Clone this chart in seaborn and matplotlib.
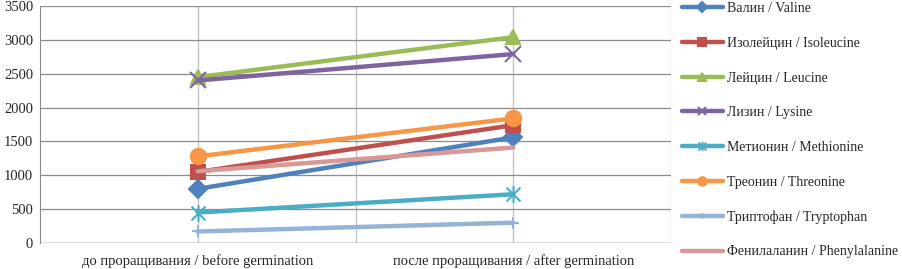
import pandas as pd
import matplotlib.pyplot as plt
import seaborn as sns
from matplotlib.path import Path

# Данные
stages = ["до проращивания / before germination", "после проращивания / after germination"]
amino_acids = [
    "Валин / Valine",
    "Изолейцин / Isoleucine",
    "Лейцин / Leucine",
    "Лизин / Lysine",
    "Метионин / Methionine",
    "Треонин / Threonine",
    "Триптофан / Tryptophan",
    "Фенилаланин / Phenylalanine",
]
before = [800, 1050, 2450, 2400, 450, 1280, 170, 1060]
after = [1560, 1740, 3040, 2790, 720, 1840, 300, 1410]

colors = ["#4F81BD", "#C0504D", "#9BBB59", "#8064A2", "#4BACC6", "#F79646", "#95B3D7", "#D99795"]

# звёздочка как в Excel: крест + вертикальная линия
star = Path([(-1, -1), (1, 1), (-1, 1), (1, -1), (0, -1.2), (0, 1.2)],
            [Path.MOVETO, Path.LINETO, Path.MOVETO, Path.LINETO, Path.MOVETO, Path.LINETO])
markers = ["D", "s", "^", "x", star, "o", "+", None]
msizes = [9, 10, 10, 11, 12, 11, 9, 0]

sns.set_style("white")
plt.rcParams["font.family"] = ["Liberation Serif", "DejaVu Serif"]

fig = plt.figure(figsize=(9.02, 2.69), dpi=100)
ax = fig.add_axes([40 / 902, 1 - 243 / 269, 631 / 902, 237 / 269])

for x in [0, 0.5, 1, 1.5]:
    ax.axvline(x, color="#bfbfbf", linewidth=0.9, zorder=0)

for i, name in enumerate(amino_acids):
    df = pd.DataFrame({"x": [0, 1], "y": [before[i], after[i]]})
    m = markers[i]
    kw = {}
    if m is not None:
        kw = dict(marker=m, markersize=msizes[i], markeredgewidth=1.5,
                  markeredgecolor=colors[i], markerfacecolor=colors[i])
    sns.lineplot(data=df, x="x", y="y", ax=ax, color=colors[i], linewidth=3.2,
                 label=name, **kw)

ax.set_xlim(-0.5, 1.5)
ax.set_ylim(0, 3500)
ax.set_yticks(range(0, 3501, 500))
ax.set_xticks([0, 1])
ax.set_xticklabels(stages)
ax.grid(False)
ax.grid(axis="y", color="#8c8c8c", linewidth=0.9)
ax.set_axisbelow(True)
ax.set_xlabel("")
ax.set_ylabel("")
ax.tick_params(axis="both", labelsize=10.5)
ax.tick_params(axis="x", length=0, pad=8)
ax.tick_params(axis="y", length=3, color="#8c8c8c", pad=2)
for s in ["top", "right", "bottom"]:
    ax.spines[s].set_visible(False)
ax.spines["left"].set_color("#8c8c8c")
ax.axhline(0, color="#8c8c8c", linewidth=1.0, zorder=0)

handles, labels = ax.get_legend_handles_labels()
ax.get_legend().remove()
fig.legend(handles, labels, loc="upper left", bbox_to_anchor=(676 / 902, 1.012),
           frameon=False, fontsize=10, labelspacing=1.56, handlelength=3.0,
           handletextpad=0.25, markerscale=0.55, borderaxespad=0)

fig.savefig("out.png", dpi=100)
